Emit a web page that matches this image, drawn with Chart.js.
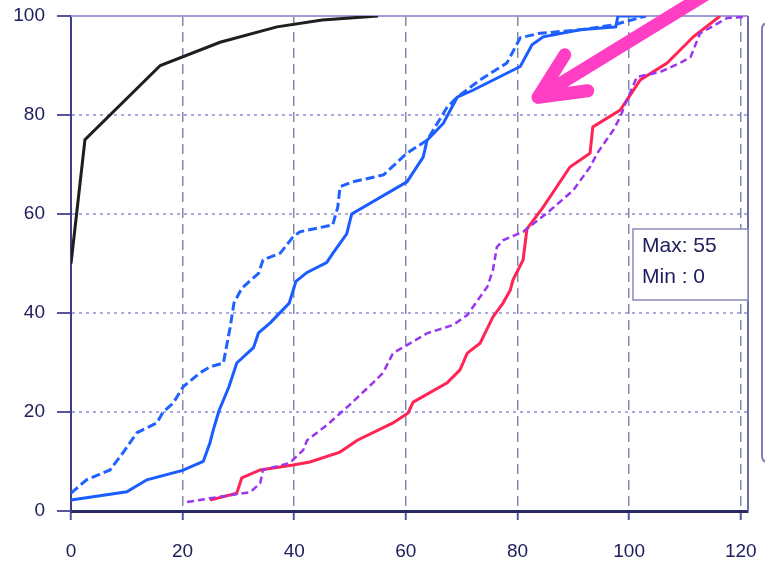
<!DOCTYPE html>
<html>
<head>
<meta charset="utf-8">
<script src="https://cdn.jsdelivr.net/npm/chart.js@4/dist/chart.umd.min.js"></script>
<style>
  html, body { margin: 0; padding: 0; background: #fff; }
  #wrap { width: 765px; height: 563px; }
</style>
</head>
<body>
<div id="wrap"><canvas id="cdf" width="765" height="563"></canvas></div>
<script>
// tick labels
const xTicks = [0, 20, 40, 60, 80, 100, 120];
const yTicks = [0, 20, 40, 60, 80, 100];

// black curve
const blackX = [0, 2.5, 16, 26.7, 36.9, 45, 55];
const blackY = [50, 75, 90, 94.7, 97.8, 99.2, 100];

// blue solid
const blueX = [0, 10, 13.6, 20, 23.7, 24.9, 25.5, 26.5, 28.3, 29.7, 32.7, 33.6, 35.7, 39.1, 40.3, 42.3, 45.8, 47, 49.4, 50.3, 60.2, 63.1, 63.8, 66.7, 69.2, 72, 80.5, 82.6, 84.6, 91.2, 97.6, 98, 103];
const blueY = [2.2, 3.9, 6.3, 8.2, 10, 13.8, 16.4, 20.2, 25.1, 29.9, 33, 36, 38, 42, 46.4, 48.2, 50.2, 52.2, 56, 60, 66.5, 71.5, 74.9, 78.3, 83.6, 85, 89.8, 94.2, 95.8, 97.2, 97.8, 100, 100];

// blue dashed
const blueDashX = [0, 2.8, 7, 9.4, 11.8, 15.4, 16.5, 18.3, 20.1, 23.1, 24.9, 27.3, 28.5, 29.2, 30.6, 33.6, 34.4, 37.5, 39.8, 41, 46.9, 47.8, 48.2, 50.5, 56, 60.2, 63.8, 67.4, 69.2, 73.3, 78.1, 80.5, 84, 91.2, 97.2, 103];
const blueDashY = [3.6, 6.3, 8.3, 11.9, 15.8, 17.8, 20, 21.8, 25.1, 27.9, 29.1, 29.9, 37, 42, 45, 48, 50.7, 52.1, 55.4, 56.4, 57.8, 61.4, 65.5, 66.5, 67.9, 72.3, 74.9, 81.6, 83.6, 87.1, 90.5, 95.6, 96.5, 97.2, 98.2, 100];

// red solid
const redX = [24.9, 29.7, 30.6, 33.9, 39.8, 42.8, 48.2, 51.3, 57.7, 60.4, 61.3, 67.4, 69.7, 71, 73.3, 75.6, 77.4, 78.7, 79.2, 81, 81.7, 84.6, 89.4, 93, 93.5, 98.4, 102, 106.8, 111.5, 116.3];
const redY = [2.2, 3.6, 6.7, 8.3, 9.3, 9.9, 11.9, 14.3, 17.8, 19.8, 22, 25.9, 28.5, 31.9, 33.9, 39.2, 42, 44.6, 46.7, 50.7, 57, 61.4, 69.5, 72.3, 77.6, 81, 87.1, 90.5, 95.8, 100];

// purple dashed
const purpleX = [20.8, 26.2, 32.1, 33.9, 34.4, 39.2, 41.6, 42.3, 45.9, 49.5, 54.1, 55.9, 57.7, 60.2, 63.8, 68.5, 71, 74.6, 75.6, 76.3, 77.4, 81, 85.3, 90, 93, 94.3, 97.2, 98.4, 99.6, 101.4, 105.6, 109.1, 111, 112.7, 117.6, 120.4];
const purpleY = [1.8, 2.8, 3.8, 5.6, 8.3, 9.7, 12.3, 14.3, 17.4, 21, 25.9, 27.9, 31.9, 33.5, 35.9, 37.6, 39.6, 45.3, 48.7, 53.3, 54.7, 56.4, 60.2, 64.8, 69.5, 72.3, 77, 79.6, 83, 87.7, 88.7, 90.5, 91.7, 96.5, 99.6, 99.8];

// stats box text
const statLines = ['Max: 55', 'Min : 0'];

// arrow in data units (tip, tail)
const arrowTip = [83.7, 83.6];
const arrowTail = [119, 108];

const navy = '#20205e';
const labelFont = { family: '"Liberation Sans", Arial, sans-serif', size: 19 };

function pts(xs, ys) {
    return xs.map((x, i) => ({ x: x, y: ys[i] }));
}

function series(xs, ys, color, width, dash) {
    return {
        data: pts(xs, ys),
        borderColor: color,
        borderWidth: width,
        borderDash: dash || [],
        pointRadius: 0,
        tension: 0,
        fill: false
    };
}

// frame, stats box, legend edge, arrow
const extras = {
    id: 'extras',
    beforeDatasetsDraw(chart) {
        const ctx = chart.ctx;
        const a = chart.chartArea;
        ctx.save();
        ctx.strokeStyle = '#9c9cd2';
        ctx.lineWidth = 2;
        ctx.beginPath();
        ctx.moveTo(a.left, a.top);
        ctx.lineTo(a.right, a.top);
        ctx.stroke();
        ctx.strokeStyle = '#6c6cac';
        ctx.beginPath();
        ctx.moveTo(a.right, a.top);
        ctx.lineTo(a.right, a.bottom);
        ctx.stroke();
        ctx.restore();
    },
    afterDraw(chart) {
        const ctx = chart.ctx;
        const a = chart.chartArea;
        const xs = chart.scales.x, ys = chart.scales.y;
        ctx.save();

        // Max / Min box
        const bx = a.right - 115, by = 229, bw = 115, bh = 71;
        ctx.fillStyle = '#fff';
        ctx.fillRect(bx, by, bw, bh);
        ctx.strokeStyle = '#8a8abc';
        ctx.lineWidth = 1.5;
        ctx.strokeRect(bx, by, bw, bh);
        ctx.fillStyle = navy;
        ctx.font = '21px "Liberation Sans", Arial, sans-serif';
        ctx.textBaseline = 'middle';
        ctx.fillText(statLines[0], bx + 9, by + 17);
        ctx.fillText(statLines[1], bx + 9, by + 48);

        // edge of the legend panel on the right
        ctx.strokeStyle = '#8080b8';
        ctx.lineWidth = 2;
        ctx.beginPath();
        ctx.moveTo(800, 23);
        ctx.lineTo(768, 23);
        ctx.quadraticCurveTo(762, 23, 762, 29);
        ctx.lineTo(762, 456);
        ctx.quadraticCurveTo(762, 462, 768, 462);
        ctx.lineTo(800, 462);
        ctx.stroke();

        // pink arrow
        const tx = xs.getPixelForValue(arrowTip[0]), ty = ys.getPixelForValue(arrowTip[1]);
        const sx = xs.getPixelForValue(arrowTail[0]), sy = ys.getPixelForValue(arrowTail[1]);
        const ang = Math.atan2(sy - ty, sx - tx);
        const len = 50;
        ctx.strokeStyle = '#ff3ec4';
        ctx.lineWidth = 13;
        ctx.lineCap = 'round';
        ctx.lineJoin = 'round';
        ctx.beginPath();
        ctx.moveTo(sx, sy);
        ctx.lineTo(tx, ty);
        ctx.stroke();
        ctx.beginPath();
        ctx.moveTo(tx + len * Math.cos(ang - 0.46), ty + len * Math.sin(ang - 0.46));
        ctx.lineTo(tx, ty);
        ctx.lineTo(tx + len * Math.cos(ang + 0.42), ty + len * Math.sin(ang + 0.42));
        ctx.stroke();
        ctx.restore();
    }
};

const chart = new Chart(document.getElementById('cdf'), {
    type: 'line',
    data: {
        datasets: [
            series(blackX, blackY, '#1e1e1e', 3),
            series(blueDashX, blueDashY, '#1f62ff', 3, [9, 4]),
            series(blueX, blueY, '#1a5cff', 3),
            series(purpleX, purpleY, '#9a35f0', 2.5, [7, 4]),
            series(redX, redY, '#ff2453', 3)
        ]
    },
    options: {
        responsive: false,
        animation: false,
        devicePixelRatio: 1,
        layout: { padding: { top: 16, right: 17, left: 0, bottom: 0 } },
        plugins: { legend: { display: false }, tooltip: { enabled: false } },
        scales: {
            x: {
                type: 'linear',
                min: 0,
                max: 121.3,
                afterFit: s => { s.height = 52; s.paddingLeft = 0; s.paddingRight = 0; },
                afterBuildTicks: s => { s.ticks = xTicks.map(v => ({ value: v })); },
                ticks: { font: labelFont, color: navy, padding: 20, maxRotation: 0 },
                grid: {
                    color: c => (c.tick && c.tick.value === 0) ? 'rgba(0,0,0,0)' : '#8888ae',
                    lineWidth: 1.5,
                    tickLength: 9,
                    tickColor: '#55559c',
                    tickWidth: 2
                },
                border: { color: '#2a2a62', width: 3, dash: [10, 6] }
            },
            y: {
                min: 0,
                max: 100,
                afterFit: s => { s.width = 71; s.paddingTop = 0; s.paddingBottom = 0; },
                afterBuildTicks: s => { s.ticks = yTicks.map(v => ({ value: v })); },
                ticks: { font: labelFont, color: navy, padding: 12 },
                grid: {
                    color: c => (c.tick && (c.tick.value === 0 || c.tick.value === 100)) ? 'rgba(0,0,0,0)' : '#aaaade',
                    lineWidth: 2,
                    tickLength: 14,
                    tickColor: '#55559c',
                    tickWidth: 2
                },
                border: { color: '#3e3e86', width: 2, dash: [3, 4] }
            }
        }
    },
    plugins: [extras]
});
</script>
</body>
</html>
